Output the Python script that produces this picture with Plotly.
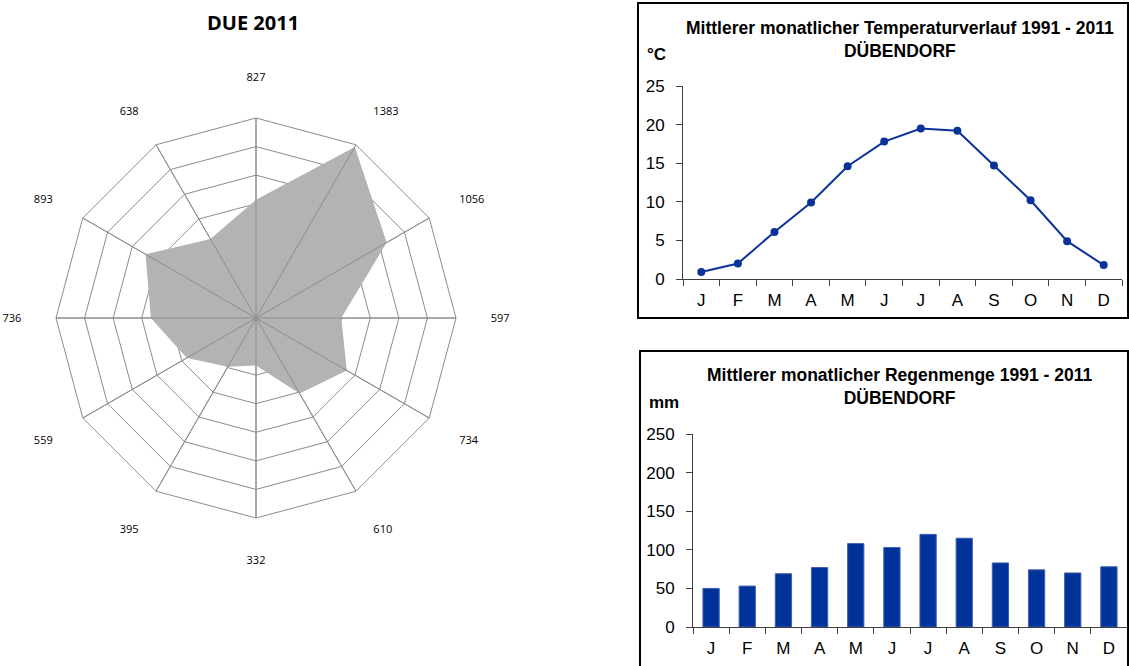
import plotly.graph_objects as go

W, H = 1129, 666

# ---- data ----
radar_labels = ["827", "1383", "1056", "597", "734", "610", "332", "395", "559", "736", "893", "638"]
radar_values = [827, 1383, 1056, 597, 734, 610, 332, 395, 559, 736, 893, 638]
radar_max = 1400
radar_step = 200

months = ["J", "F", "M", "A", "M", "J", "J", "A", "S", "O", "N", "D"]
temperature = [0.9, 2.0, 6.1, 9.9, 14.6, 17.8, 19.5, 19.2, 14.7, 10.2, 4.9, 1.8]
rain = [50, 53, 69, 77, 108, 103, 120, 115, 83, 74, 70, 78]

def px(x):
    return x / W

def py(y):
    return 1 - y / H

fig = go.Figure()

# ---- radar ----
fig.add_trace(go.Scatterpolar(
    r=radar_values + [radar_values[0]],
    theta=radar_labels + [radar_labels[0]],
    mode="lines", fill="toself", fillcolor="#B3B3B3",
    line=dict(width=0, color="#B3B3B3"), showlegend=False, hoverinfo="skip",
    subplot="polar"))
for lab in radar_labels:
    fig.add_trace(go.Scatterpolar(
        r=[0, radar_max], theta=[lab, lab], mode="lines",
        line=dict(color="#8C8C8C", width=1), showlegend=False,
        hoverinfo="skip", subplot="polar"))

# ---- temperature line ----
xs = list(range(12))
fig.add_trace(go.Scatter(
    x=xs, y=temperature, mode="lines+markers",
    line=dict(color="#0A3399", width=2),
    marker=dict(color="#0A3399", size=8),
    showlegend=False, xaxis="x", yaxis="y"))

# ---- rain bars ----
fig.add_trace(go.Bar(
    x=xs, y=rain, width=0.45,
    marker=dict(color="#003399", line=dict(color="#4060B0", width=1)),
    showlegend=False, xaxis="x2", yaxis="y2"))

axis_font = dict(family="Liberation Sans, Arial", size=17, color="#000000")
tick_bounds = [i - 0.5 for i in range(13)]

common_x = dict(
    range=[-0.5, 11.5], tickmode="array", tickvals=xs, ticktext=months,
    ticks="", showgrid=False, zeroline=False, showline=True,
    linecolor="#404040", linewidth=1, tickfont=axis_font,
    ticklabelstandoff=6, automargin=False,
    minor=dict(tickmode="array", tickvals=tick_bounds, ticks="outside",
               ticklen=6, tickcolor="#404040", tickwidth=1, showgrid=False),
    fixedrange=True)
common_y = dict(
    showgrid=False, zeroline=False, showline=True, linecolor="#404040",
    linewidth=1, ticks="outside", ticklen=6, tickcolor="#404040",
    tickfont=axis_font, ticklabelstandoff=8, automargin=False, fixedrange=True)

def ann(text, x, y, size, family="Liberation Sans, Arial"):
    return dict(text=text, xref="paper", yref="paper", x=px(x), y=py(y),
                xanchor="center", yanchor="middle", showarrow=False,
                font=dict(family=family, size=size, color="#000000"))

fig.update_layout(
    width=W, height=H, autosize=False,
    margin=dict(l=0, r=0, t=0, b=0, pad=0, autoexpand=False),
    paper_bgcolor="white", plot_bgcolor="white",
    font=dict(family="Liberation Sans, Arial", color="#000000"),
    polar=dict(
        domain=dict(x=[px(56), px(456)], y=[py(518), py(118)]),
        gridshape="linear", bgcolor="white",
        radialaxis=dict(range=[0, radar_max], dtick=radar_step, tick0=0,
                        showticklabels=False, ticks="", showline=False,
                        gridcolor="#8C8C8C", gridwidth=1),
        angularaxis=dict(direction="clockwise", rotation=90,
                         type="category", categoryarray=radar_labels,
                         showline=True, linecolor="#8C8C8C", linewidth=1,
                         gridcolor="#8C8C8C", ticks="outside", ticklen=32,
                         tickcolor="rgba(0,0,0,0)",
                         tickfont=dict(family="Open Sans, Noto Sans", size=11, color="#000000"))),
    xaxis=dict(domain=[px(683), px(1122)], anchor="y", **common_x),
    yaxis=dict(domain=[py(279), py(86)], anchor="x", range=[0, 25], dtick=5, **common_y),
    xaxis2=dict(domain=[px(693), px(1127)], anchor="y2", **common_x),
    yaxis2=dict(domain=[py(627), py(434)], anchor="x2", range=[0, 250], dtick=50, **common_y),
    shapes=[
        dict(type="rect", xref="paper", yref="paper", x0=px(638), x1=px(1128),
             y0=py(318), y1=py(3), line=dict(color="#000000", width=2)),
        dict(type="rect", xref="paper", yref="paper", x0=px(640), x1=px(1128),
             y0=py(690), y1=py(351), line=dict(color="#000000", width=2)),
    ],
    annotations=[
        ann("<b>DUE 2011</b>", 253, 22, 20, "Open Sans, Noto Sans"),
        ann("<b>Mittlerer monatlicher Temperaturverlauf 1991 - 2011<br>DÜBENDORF</b>", 900, 40, 17.5),
        ann("<b>°C</b>", 656, 54, 17),
        ann("<b>Mittlerer monatlicher Regenmenge 1991 - 2011<br>DÜBENDORF</b>", 900, 386, 17.5),
        ann("<b>mm</b>", 664, 402, 17),
    ],
)

fig.write_html("out.html", config={"displayModeBar": False},
               post_script="document.body.style.margin='0';document.body.style.overflow='hidden';")
